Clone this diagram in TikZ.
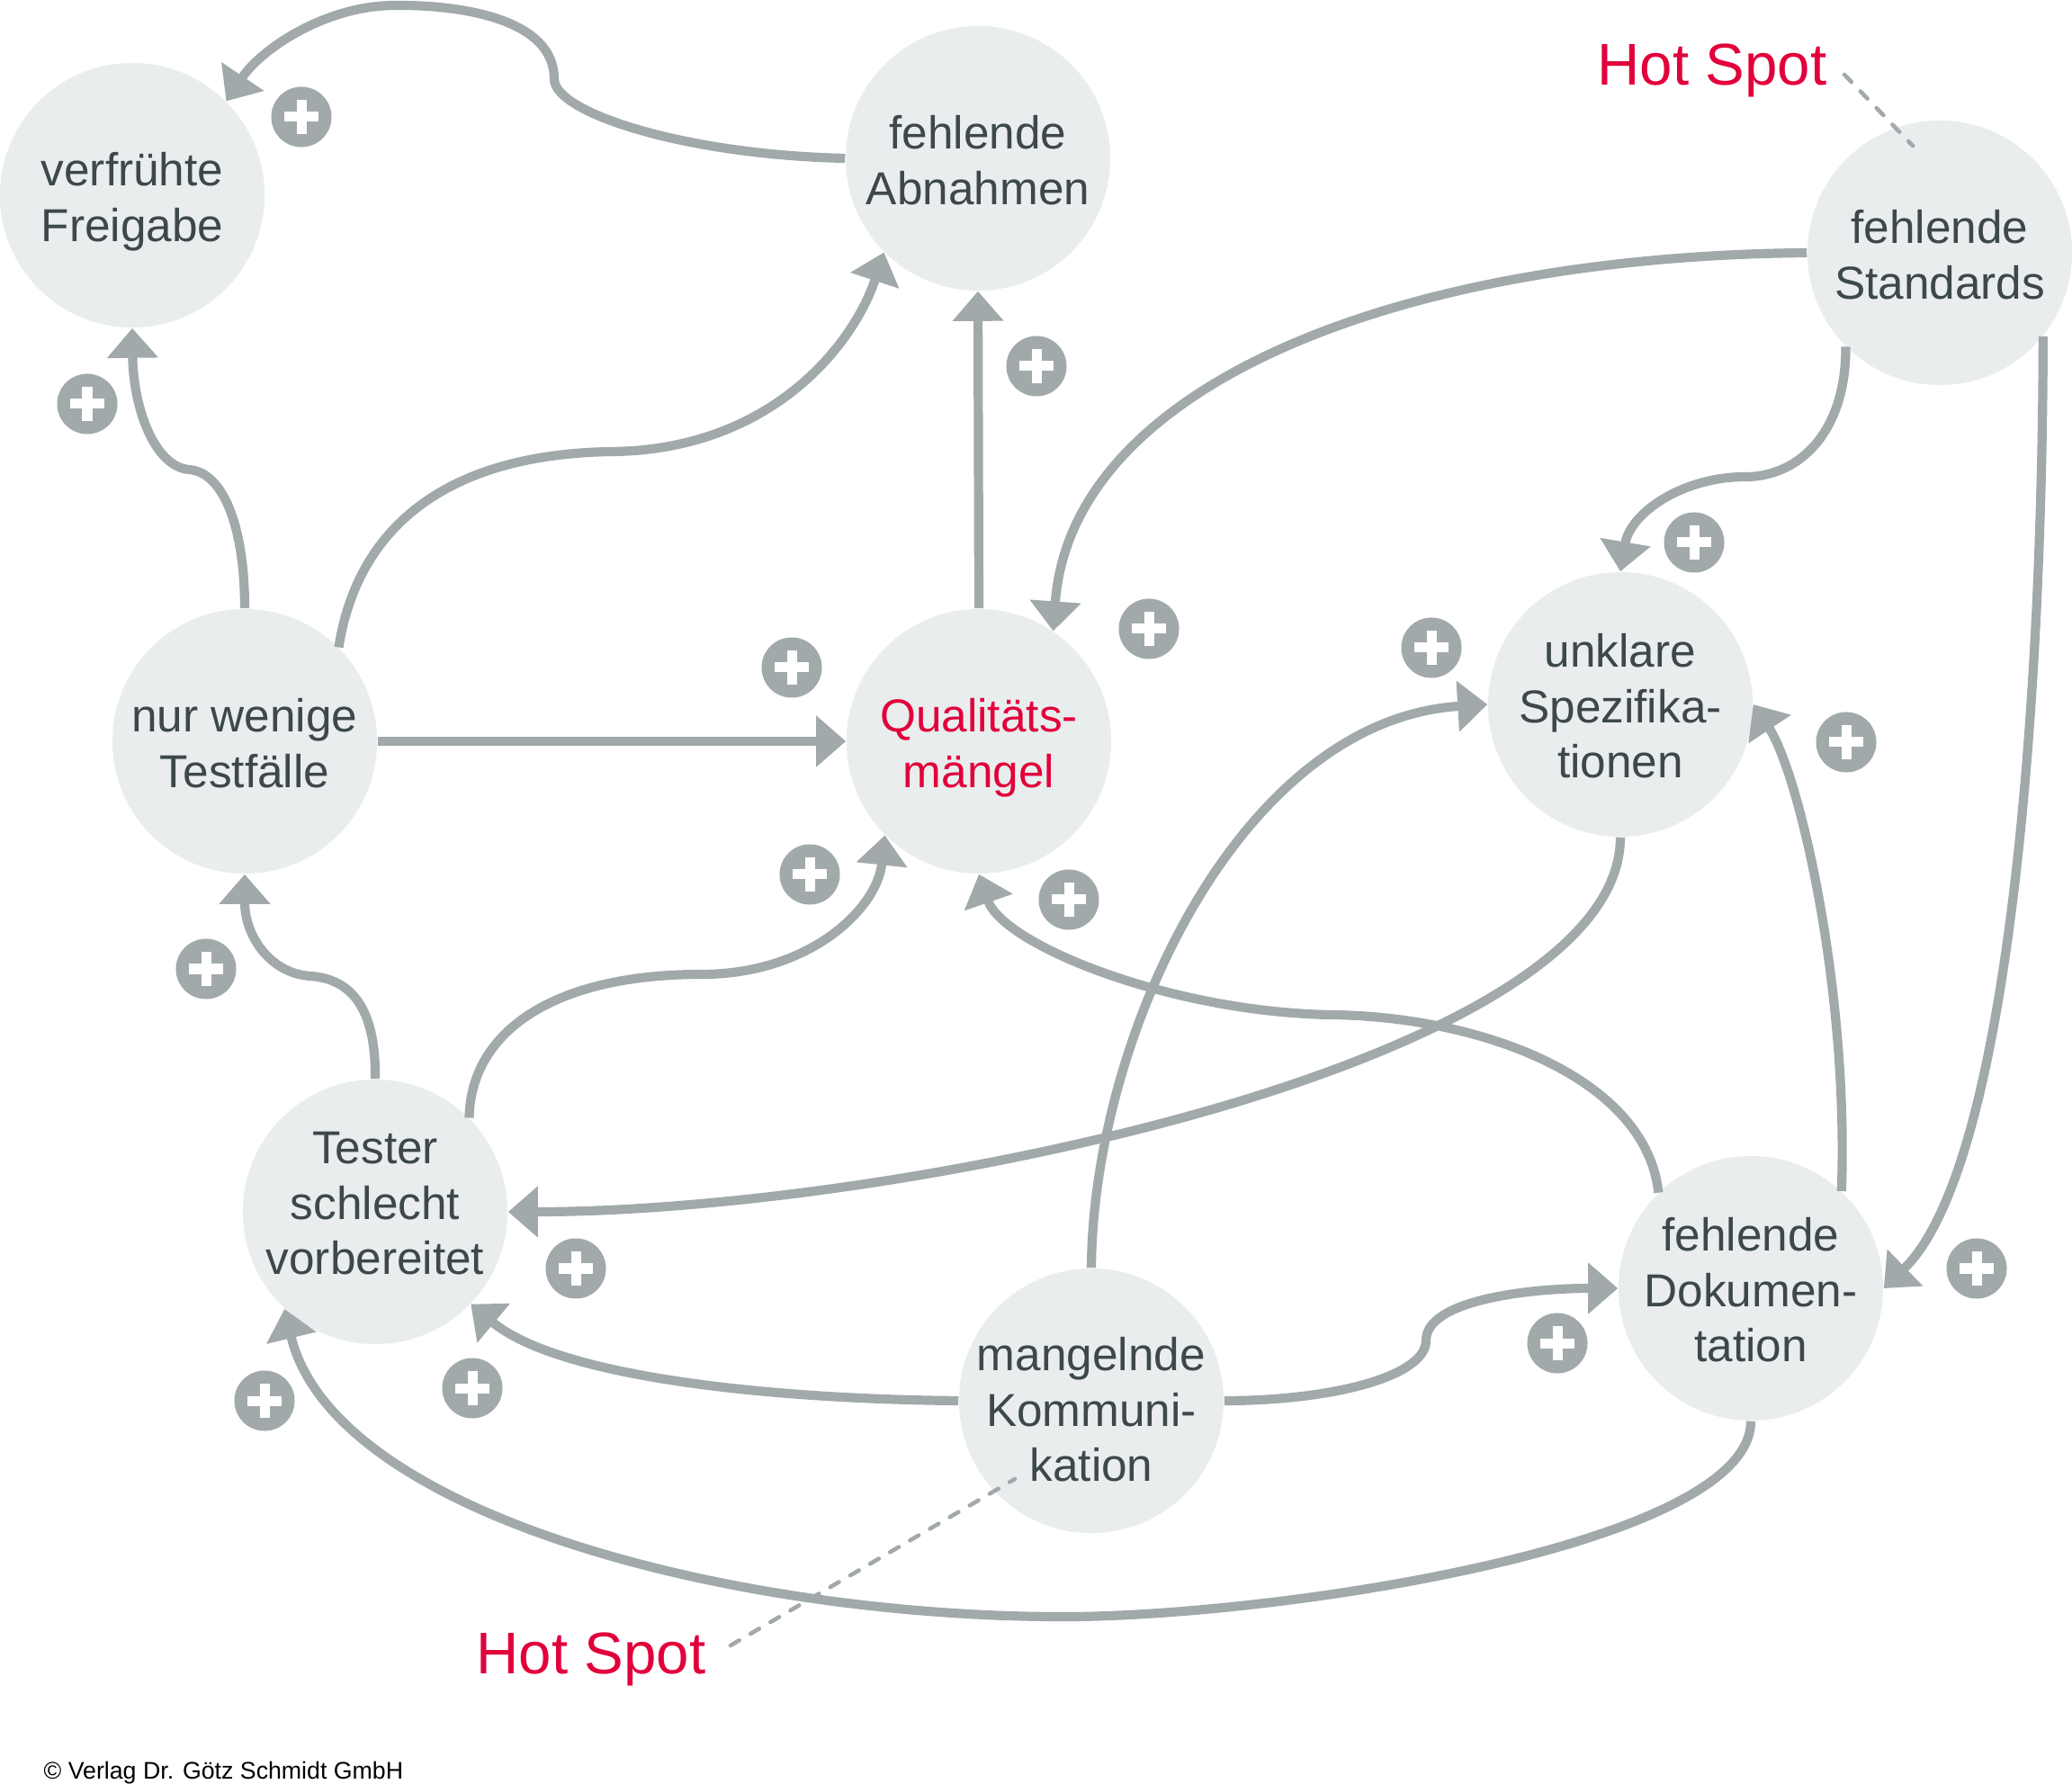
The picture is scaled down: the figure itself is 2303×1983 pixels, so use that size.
\documentclass[tikz,border=0pt]{standalone}
\usepackage{fontspec}
\setmainfont{Liberation Sans}
\usetikzlibrary{arrows.meta}
\definecolor{circfill}{HTML}{E9EDEE}
\definecolor{linegray}{HTML}{A1A9AA}
\definecolor{txtgray}{HTML}{3D4849}
\definecolor{hotred}{HTML}{E2003B}
\begin{document}
\begin{tikzpicture}[x=0.01cm,y=-0.01cm,
  bubble/.style={circle, fill=circfill, minimum size=2.94cm, inner sep=0pt},
  btext/.style={text=txtgray, font=\fontsize{14.6}{17.5}\selectfont, align=center, inner sep=0pt, yshift=-0.08cm},
  link/.style={draw=linegray, line width=2.9pt, -{Triangle[length=0.33cm,width=0.55cm]}},
  badge/.style={circle, fill=linegray, minimum size=0.67cm, inner sep=0pt,
    path picture={
      \fill[white] ([shift={(-0.19cm,-0.055cm)}]path picture bounding box.center) rectangle ([shift={(0.19cm,0.055cm)}]path picture bounding box.center);
      \fill[white] ([shift={(-0.055cm,-0.19cm)}]path picture bounding box.center) rectangle ([shift={(0.055cm,0.19cm)}]path picture bounding box.center);
    }},
  hotspot/.style={text=hotred, font=\fontsize{18.6}{22}\selectfont, inner sep=0pt, anchor=base},
  hsline/.style={draw=linegray, line width=1.3pt, line cap=round, dash pattern=on 3.2pt off 4.1pt}]

\useasboundingbox (0,0) rectangle (2303,1983);

% circles with their texts
\node[bubble, label={[btext, name=frt]center:{\strut verfrühte\\\strut Freigabe}}] (fr) at (147,217) {};
\node[bubble, label={[btext, name=abnt]center:{\strut fehlende\\\strut Abnahmen}}] (abn) at (1087,176) {};
\node[bubble, label={[btext, name=fst]center:{\strut fehlende\\\strut Standards}}] (fs) at (2156,281) {};
\node[bubble, label={[btext, name=nwt]center:{\strut nur wenige\\\strut Testfälle}}] (nw) at (272,824) {};
\node[bubble, label={[btext, text=hotred, name=qlt]center:{\strut Qualitäts-\\\strut mängel}}] (ql) at (1088,824) {};
\node[bubble, label={[btext, name=ukt]center:{\strut unklare\\\strut Spezifika-\\\strut tionen}}] (uk) at (1801,783) {};
\node[bubble, label={[btext, yshift=0.12cm, name=tsvt]center:{\strut Tester\\\strut schlecht\\\strut vorbereitet}}] (tsv) at (417,1347) {};
\node[bubble, label={[btext, name=fdt]center:{\strut fehlende\\\strut Dokumen-\\\strut tation}}] (fd) at (1946,1432) {};
\node[bubble, label={[btext, yshift=-0.08cm, name=mkt]center:{\strut mangelnde\\\strut Kommuni-\\\strut kation}}] (mk) at (1213,1557) {};

% connectors
\draw[link] (abn.west) .. controls (760,172) and (616,125) .. (616,88) .. controls (616,20) and (510,5) .. (437,6) .. controls (360,7) and (290,55) .. (fr.45);
\draw[link] (nw.north) .. controls (272,590) and (250,525) .. (210,522) .. controls (170,518) and (148,450) .. (fr.south);
\draw[link] (nw.45) .. controls (395,600) and (480,505) .. (680,502) .. controls (860,500) and (950,380) .. (abn.225);
\draw[link] (ql.north) -- (abn.south);
\draw[link] (nw.east) -- (ql.west);
\draw[link] (fs.west) .. controls (1550,285) and (1190,430) .. (ql.56);
\draw[link] (fs.225) .. controls (2052,480) and (2000,530) .. (1940,530) .. controls (1870,530) and (1812,570) .. (uk.north);
\draw[link] (fs.-39) .. controls (2270,800) and (2230,1300) .. (fd.east);
\draw[link] (uk.south) .. controls (1801,1180) and (1000,1347) .. (tsv.east);
\draw[link] (tsv.north) .. controls (418,1120) and (390,1088) .. (345,1085) .. controls (300,1082) and (272,1040) .. (nw.south);
\draw[link] (tsv.45) .. controls (523,1150) and (610,1083) .. (780,1083) .. controls (900,1083) and (975,1010) .. (ql.225);
\draw[link] (fd.134) .. controls (1830,1200) and (1650,1130) .. (1480,1128) .. controls (1300,1125) and (1115,1050) .. (ql.south);
\draw[link] (fd.47) .. controls (2055,1100) and (2000,860) .. (uk.east);
\draw[link] (mk.north) .. controls (1215,1150) and (1380,800) .. (uk.west);
\draw[link] (mk.west) .. controls (850,1555) and (620,1530) .. (tsv.-44);
\draw[link] (mk.east) .. controls (1480,1557) and (1585,1530) .. (1585,1490) .. controls (1585,1445) and (1700,1432) .. (fd.west);
\draw[link] (fd.south) .. controls (1946,1720) and (1400,1800) .. (1168,1797) .. controls (800,1794) and (370,1680) .. (tsv.227);

% plus badges
\node[badge] (b1) at (335,130) {};
\node[badge] (b2) at (97,449) {};
\node[badge] (b3) at (1152,407) {};
\node[badge] (b4) at (1883,603) {};
\node[badge] (b5) at (1277,699) {};
\node[badge] (b6) at (880,742) {};
\node[badge] (b7) at (1591,720) {};
\node[badge] (b8) at (2052,825) {};
\node[badge] (b9) at (900,972) {};
\node[badge] (b10) at (1188,1000) {};
\node[badge] (b11) at (229,1077) {};
\node[badge] (b12) at (640,1410) {};
\node[badge] (b13) at (525,1543) {};
\node[badge] (b14) at (294,1557) {};
\node[badge] (b15) at (1731,1493) {};
\node[badge] (b16) at (2197,1410) {};

% hot spots
\node[hotspot] (hs1) at (1903,95) {Hot Spot};
\coordinate (hs1a) at (2050,83);
\coordinate (hs1b) at (2126,162);
\draw[hsline] (hs1a) -- (hs1b);
\node[hotspot] (hs2) at (657,1860) {Hot Spot};
\coordinate (hs2a) at (812,1829);
\coordinate (hs2b) at (1128,1644);
\draw[hsline] (hs2a) -- (hs2b);

% copyright
\node[anchor=base west, inner sep=0pt, font=\fontsize{7.6}{9}\selectfont] (copy) at (48,1977) {© Verlag Dr. Götz Schmidt GmbH};
\end{tikzpicture}
\end{document}
